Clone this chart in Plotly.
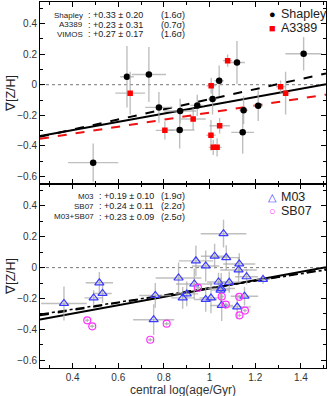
import plotly.graph_objects as go
import numpy as np

# ---- Top panel data ----
shap_x = [0.490, 0.638, 0.734, 0.778, 0.871, 0.869, 0.946, 1.013, 1.042, 1.120, 1.149, 1.145, 1.213, 1.412]
shap_y = [-0.509, 0.052, 0.067, -0.148, -0.172, -0.296, -0.135, -0.094, 0.026, 0.145, -0.166, -0.311, -0.137, 0.202]
shap_xe = [0.11, 0.03, 0.075, 0.06, 0.07, 0.065, 0.03, 0.02, 0.02, 0.035, 0.02, 0.05, 0.02, 0.08]
shap_ye = [0.125, 0.20, 0.18, 0.10, 0.08, 0.12, 0.07, 0.10, 0.10, 0.14, 0.09, 0.14, 0.10, 0.11]

a3389_x = [0.652, 0.804, 0.928, 1.007, 1.006, 1.016, 1.033, 1.044, 1.079, 1.311, 1.333]
a3389_y = [-0.055, -0.298, -0.224, -0.007, -0.330, -0.409, -0.409, -0.268, 0.157, -0.013, -0.055]
a3389_xe = [0.065, 0.04, 0.055, 0.02, 0.02, 0.02, 0.02, 0.045, 0.02, 0.02, 0.02]
a3389_ye = [0.14, 0.06, 0.07, 0.05, 0.10, 0.05, 0.06, 0.05, 0.04, 0.04, 0.14]

# ---- Bottom panel data ----
m03_x = [0.362, 0.517, 0.492, 0.531, 0.762, 0.755, 0.864, 0.882, 0.900, 0.933, 0.940, 0.983, 0.983, 1.006,
         1.022, 1.039, 1.051, 1.053, 1.061, 1.073, 1.086, 1.121, 1.127, 1.130, 1.153, 1.162, 1.234, 1.048]
m03_y = [-0.232, -0.098, -0.196, -0.167, -0.180, -0.337, -0.067, -0.196, -0.170, -0.106, 0.044, 0.011, -0.206,
         -0.196, 0.074, -0.093, -0.135, -0.245, 0.220, 0.065, -0.095, -0.254, -0.015, 0.024, -0.185, -0.059, -0.076, -0.145]
m03_xe = [0.10, 0.06, 0.04, 0.04, 0.07, 0.09, 0.10, 0.05, 0.05, 0.08, 0.075, 0.06, 0.05, 0.05,
          0.06, 0.05, 0.06, 0.05, 0.10, 0.06, 0.05, 0.06, 0.08, 0.07, 0.06, 0.05, 0.03, 0.04]
m03_ye = [0.11, 0.07, 0.05, 0.06, 0.08, 0.10, 0.10, 0.07, 0.08, 0.10, 0.10, 0.10, 0.08, 0.10,
          0.08, 0.06, 0.10, 0.10, 0.09, 0.08, 0.07, 0.08, 0.08, 0.07, 0.06, 0.05, 0.03, 0.08]

sb07_x = [0.464, 0.486, 0.740, 0.812, 0.949, 1.053, 1.071, 1.130, 1.131, 1.155]
sb07_y = [-0.341, -0.380, -0.467, -0.363, -0.130, -0.187, -0.239, -0.189, -0.309, -0.278]
sb07_xe = [0.01] * 10
sb07_ye = [0.012] * 10

# ---- Fits (slope, intercept) ----
fit_vimos = (0.27, -0.405)
fit_shap = (0.33, -0.425)
fit_a3389 = (0.23, -0.412)
fit_sb07 = (0.24, -0.372)
fit_all = (0.23, -0.362)

top_text_names = ["Shapley", "A3389", "VIMOS"]
top_text_vals = [": +0.33 ± 0.20", ": +0.23 ± 0.31", ": +0.27 ± 0.17"]
top_text_sig = ["(1.6σ)", "(0.7σ)", "(1.6σ)"]
bot_text_names = ["M03", "SB07", "M03+SB07"]
bot_text_vals = [": +0.19 ± 0.10", ": +0.24 ± 0.11", ": +0.23 ± 0.09"]
bot_text_sig = ["(1.9σ)", "(2.2σ)", "(2.5σ)"]

legend_top = [("●", "#000000", "Shapley"), ("■", "#ff0000", "A3389")]
legend_bot = [("△", "#3b3bff", "M03"), ("○", "#ff33ff", "SB07")]

xr = [0.257, 1.51]
yr = [-0.65, 0.54]
xl = np.linspace(xr[0], xr[1], 50)

FONT = "Liberation Sans, Arial, sans-serif"
ERRC = "rgba(170,170,170,0.75)"

W, H = 330, 396
ML, MR, MT, MB = 40, 4, 2, 28
PW, PH = W - ML - MR, H - MT - MB

def pxx(p):
    return (p - ML) / PW

def pxy(p):
    return 1 - (p - MT) / PH

fig = go.Figure()

def err(arr):
    return dict(type="data", array=arr, color=ERRC, thickness=1.4, width=0)

# top lines
for (b, a), col, dash in [(fit_vimos, "black", "solid"), (fit_shap, "black", "dash"), (fit_a3389, "#ee1111", "dash")]:
    fig.add_trace(go.Scatter(x=xl, y=a + b * xl, mode="lines", line=dict(color=col, width=2, dash=dash),
                             showlegend=False, xaxis="x", yaxis="y", hoverinfo="skip"))

fig.add_trace(go.Scatter(x=shap_x, y=shap_y, mode="markers", name="Shapley", showlegend=False,
                         error_x=err(shap_xe), error_y=err(shap_ye),
                         marker=dict(symbol="circle", size=6.5, color="black"),
                         xaxis="x", yaxis="y"))
fig.add_trace(go.Scatter(x=a3389_x, y=a3389_y, mode="markers", name="A3389", showlegend=False,
                         error_x=err(a3389_xe), error_y=err(a3389_ye),
                         marker=dict(symbol="square", size=5.5, color="#ff0000"),
                         xaxis="x", yaxis="y"))

# bottom lines
for (b, a), col, dash in [(fit_vimos, "black", "solid"), (fit_sb07, "black", "dash"), (fit_all, "black", "dashdot")]:
    fig.add_trace(go.Scatter(x=xl, y=a + b * xl, mode="lines",
                             line=dict(color=col, width=2 if dash == "solid" else 1.6, dash=dash),
                             showlegend=False, xaxis="x2", yaxis="y2", hoverinfo="skip"))

fig.add_trace(go.Scatter(x=m03_x, y=m03_y, mode="markers", name="M03", showlegend=False,
                         error_x=err(m03_xe), error_y=err(m03_ye),
                         marker=dict(symbol="triangle-up-open", size=8, color="#3b3bff", line=dict(width=1.2)),
                         xaxis="x2", yaxis="y2"))
fig.add_trace(go.Scatter(x=sb07_x, y=sb07_y, mode="markers", name="SB07", showlegend=False,
                         error_x=err(sb07_xe), error_y=err(sb07_ye),
                         marker=dict(symbol="circle-open", size=7, color="#ff33ff", line=dict(width=1.2)),
                         xaxis="x2", yaxis="y2"))

shapes = []
for yref, xref in [("y", "x"), ("y2", "x2")]:
    shapes.append(dict(type="line", xref=xref, yref=yref, x0=xr[0], x1=xr[1], y0=0, y1=0,
                       line=dict(color="#777", width=1, dash="dot"), layer="below"))

annotations = []
def txt(text, x, y, anchor="left", size=9, color="#222", yanchor="middle", **kw):
    annotations.append(dict(text=text, x=x, y=y, xref="paper", yref="paper", xanchor=anchor, yanchor=yanchor,
                            showarrow=False, font=dict(size=size, color=color, family=FONT), **kw))

def stat_block(names, vals, sigs, ys, colon_px, sig_px):
    for i in range(3):
        yy = pxy(ys[i])
        txt(names[i], pxx(colon_px), yy, "right", size=8)
        txt(vals[i], pxx(colon_px + 1), yy, "left")
        txt(sigs[i], pxx(sig_px), yy, "left")

stat_block(top_text_names, top_text_vals, top_text_sig, [15, 24.8, 34.3], 85, 159)
stat_block(bot_text_names, bot_text_vals, bot_text_sig, [196.3, 206.2, 216.5], 96, 159)

for (sym, col, name), ypix in zip(legend_top, [14, 28]):
    txt(sym, pxx(272), pxy(ypix), "center", size=11, color=col)
    txt(name, pxx(279), pxy(ypix), "left", size=12.5)
for (sym, col, name), ypix in zip(legend_bot, [197, 211]):
    txt(sym, pxx(272), pxy(ypix), "center", size=11, color=col)
    txt(name, pxx(279), pxy(ypix), "left", size=12.5)

txt("∇[Z/H]", pxx(11), pxy(94), "center", size=12.5, textangle=-90)
txt("∇[Z/H]", pxx(11), pxy(277), "center", size=12.5, textangle=-90)
txt("central log(age/Gyr)", 0.5, pxy(381.5), "center", size=12, color="#333", yanchor="top", borderpad=0)

axis_common = dict(showline=True, linecolor="black", linewidth=1, mirror="allticks", ticks="inside",
                   ticklen=5, tickcolor="black", showgrid=False, zeroline=False,
                   tickfont=dict(size=10, color="#333", family=FONT))
minor = dict(dtick=0.1, ticklen=3, ticks="inside", tickcolor="black")
ytv = [0.4, 0.2, 0, -0.2, -0.4, -0.6]
ytt = ["0.4", "0.2", "0", "−0.2", "−0.4", "−0.6"]

fig.update_layout(
    width=W, height=H,
    margin=dict(l=ML, r=MR, t=MT, b=MB, autoexpand=False),
    paper_bgcolor="white", plot_bgcolor="white",
    font=dict(family=FONT, color="#222"),
    showlegend=False,
    xaxis=dict(domain=[0, 1], range=xr, anchor="y", showticklabels=False, tickvals=[0.4, 0.6, 0.8, 1.0, 1.2, 1.4],
               minor=minor, **axis_common),
    yaxis=dict(domain=[0.502, 1], range=yr, anchor="x", tickvals=ytv, ticktext=ytt, minor=minor, **axis_common),
    xaxis2=dict(domain=[0, 1], range=xr, anchor="y2",
                tickvals=[0.4, 0.6, 0.8, 1.0, 1.2, 1.4], ticktext=["0.4", "0.6", "0.8", "1", "1.2", "1.4"],
                minor=minor, **axis_common),
    yaxis2=dict(domain=[0, 0.502], range=yr, anchor="x2", tickvals=ytv, ticktext=ytt, minor=minor, **axis_common),
    shapes=shapes,
    annotations=annotations,
)

fig.write_html("out.html", config={"displayModeBar": False},
               post_script="document.body.style.margin='0px';document.body.style.overflow='hidden';")
